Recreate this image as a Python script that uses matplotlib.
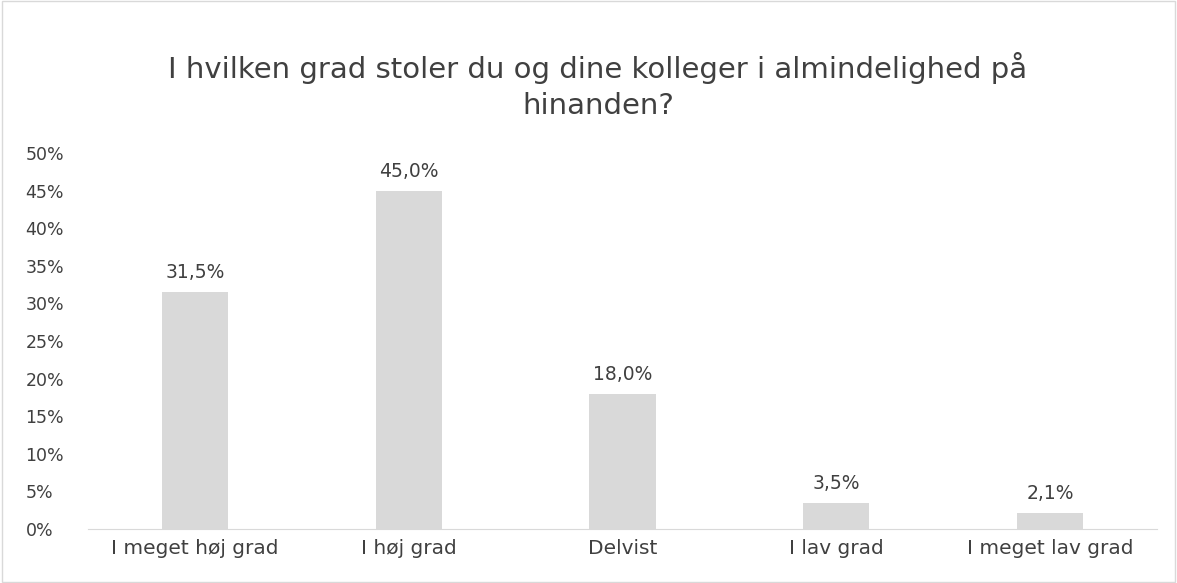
import matplotlib.pyplot as plt
from matplotlib.patches import Rectangle

plt.rcParams['font.family'] = ['DejaVu Sans']

kategorier = ["I meget høj grad", "I høj grad", "Delvist", "I lav grad", "I meget lav grad"]
andele = [0.315, 0.450, 0.180, 0.035, 0.021]
etiketter = ["31,5%", "45,0%", "18,0%", "3,5%", "2,1%"]
y_ticks = [0, 0.05, 0.10, 0.15, 0.20, 0.25, 0.30, 0.35, 0.40, 0.45, 0.50]
y_labels = ["0%", "5%", "10%", "15%", "20%", "25%", "30%", "35%", "40%", "45%", "50%"]

tekst = "#404040"

fig = plt.figure(figsize=(11.77, 5.83), dpi=100)
fig.patches.append(Rectangle((0.002, 0.002), 0.996, 0.996, transform=fig.transFigure,
                             fill=False, edgecolor="#d9d9d9", linewidth=1))

ax = fig.add_axes([0.0748, 0.0926, 0.908, 0.645])
x = range(len(kategorier))
ax.bar(x, andele, width=0.31, color="#d9d9d9")
for xi, v, lab in zip(x, andele, etiketter):
    ax.text(xi, v + 0.013, lab, ha="center", va="bottom", fontsize=13.5, color=tekst)

ax.set_xlim(-0.5, len(kategorier) - 0.5)
ax.set_ylim(0, 0.5)
ax.set_xticks(list(x))
ax.set_xticklabels(kategorier, fontsize=14.5, color=tekst)
ax.set_yticks(y_ticks)
ax.set_yticklabels(y_labels, fontsize=12.5, color=tekst, ha="left")
ax.tick_params(axis="y", length=0, pad=45)
ax.tick_params(axis="x", length=0, pad=7)
for s in ["top", "right", "left"]:
    ax.spines[s].set_visible(False)
ax.spines["bottom"].set_color("#d9d9d9")

fig.text(0.508, 0.853, "I hvilken grad stoler du og dine kolleger i almindelighed på\nhinanden?",
         ha="center", va="center", fontsize=21, color=tekst, linespacing=1.35)

fig.savefig("out.png", dpi=100)
